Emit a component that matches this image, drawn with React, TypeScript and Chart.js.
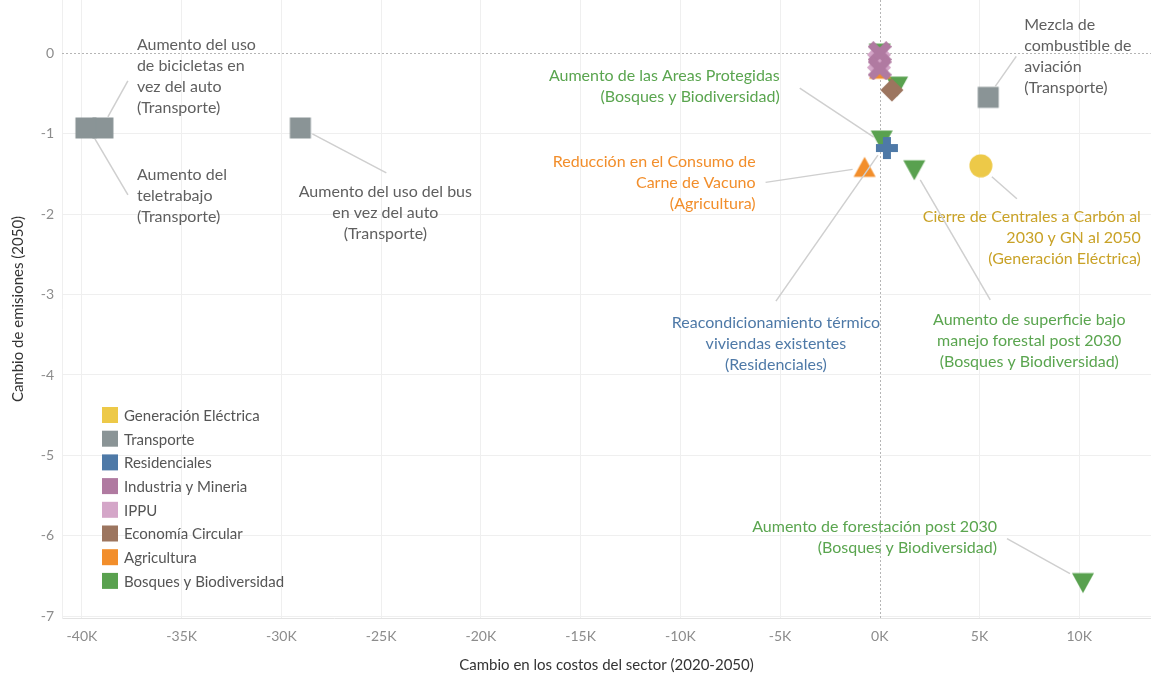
import { useEffect, useRef } from "react";
import { Chart, registerables } from "chart.js";

Chart.register(...registerables);

// ---- Data ---------------------------------------------------------------
// Sector categories (legend order) and their colours
const categories = [
  "Generación Eléctrica",
  "Transporte",
  "Residenciales",
  "Industria y Mineria",
  "IPPU",
  "Economía Circular",
  "Agricultura",
  "Bosques y Biodiversidad",
];
const categoryColors = [
  "#edc948",
  "#8a9496",
  "#4e79a7",
  "#b07aa1",
  "#d4a6c8",
  "#9c755f",
  "#f28e2b",
  "#59a14f",
];
const categoryShapes = ["circle", "square", "plus", "cross", "cross", "diamond", "triUp", "triDown"];

// Cost change (2020-2050) and emissions change (2050) for each measure
const generacionCost = [5070];
const generacionEmis = [-1.4];
const transporteCost = [-38950, -39800, -29050, 5440];
const transporteEmis = [-0.93, -0.93, -0.93, -0.55];
const residencialCost = [360];
const residencialEmis = [-1.18];
const industriaCost = [0, 0];
const industriaEmis = [0.0, -0.19];
const ippuCost = [-40];
const ippuEmis = [-0.1];
const circularCost = [610];
const circularEmis = [-0.46];
const agriculturaCost = [-760, 20];
const agriculturaEmis = [-1.42, -0.2];
const bosquesCost = [0, 870, 100, 1730, 10190];
const bosquesEmis = [0.0, -0.41, -1.08, -1.45, -6.58];

const costSeries = [
  generacionCost,
  transporteCost,
  residencialCost,
  industriaCost,
  ippuCost,
  circularCost,
  agriculturaCost,
  bosquesCost,
];
const emisSeries = [
  generacionEmis,
  transporteEmis,
  residencialEmis,
  industriaEmis,
  ippuEmis,
  circularEmis,
  agriculturaEmis,
  bosquesEmis,
];

// Axis ticks
const xTicks = [-40000, -35000, -30000, -25000, -20000, -15000, -10000, -5000, 0, 5000, 10000];
const yTicks = [0, -1, -2, -3, -4, -5, -6, -7];

// Callout labels: which measure they describe and the text lines
const calloutSeries = [1, 1, 1, 1, 7, 6, 0, 2, 7, 7];
const calloutIndex = [0, 1, 2, 3, 2, 0, 0, 0, 3, 4];
const calloutText = [
  ["Aumento del uso", "de bicicletas en", "vez del auto", "(Transporte)"],
  ["Aumento del", "teletrabajo", "(Transporte)"],
  ["Aumento del uso del bus", "en vez del auto", "(Transporte)"],
  ["Mezcla de", "combustible de", "aviación", "(Transporte)"],
  ["Aumento de las Areas Protegidas", "(Bosques y Biodiversidad)"],
  ["Reducción en el Consumo de", "Carne de Vacuno", "(Agricultura)"],
  ["Cierre de Centrales a Carbón al", "2030 y GN al 2050", "(Generación Eléctrica)"],
  ["Reacondicionamiento térmico", "viviendas existentes", "(Residenciales)"],
  ["Aumento de superficie bajo", "manejo forestal post 2030", "(Bosques y Biodiversidad)"],
  ["Aumento de forestación post 2030", "(Bosques y Biodiversidad)"],
];

// ---- Presentation --------------------------------------------------------
const FONT = "Lato, 'Open Sans', sans-serif";
const textColors: Record<number, string> = {
  0: "#c9a227",
  1: "#5f5f5f",
  2: "#4e79a7",
  6: "#f28e2b",
  7: "#5aa54f",
};

// Text placement relative to the marker (pixels): text anchor, alignment, leader line ends
const calloutLayout = [
  { tx: 34, ty: -83, align: "left", l1: [5, -11], l2: [25, -47] },
  { tx: 51, ty: 47, align: "left", l1: [9, 11], l2: [42, 67] },
  { tx: 85, ty: 64, align: "center", l1: [12, 6], l2: [86, 45] },
  { tx: 36, ty: -73, align: "left", l1: [7, -11], l2: [28, -41] },
  { tx: -102, ty: -64, align: "right", l1: [-8, -3], l2: [-82, -52] },
  { tx: -109, ty: -6, align: "right", l1: [-12, 2], l2: [-99, 15] },
  { tx: 160, ty: 51, align: "right", l1: [11, 11], l2: [36, 33] },
  { tx: -111, ty: 175, align: "center", l1: [-9, 7], l2: [-111, 153] },
  { tx: 115, ty: 150, align: "center", l1: [6, 10], l2: [76, 130] },
  { tx: -86, ty: -56, align: "right", l1: [-13, -9], l2: [-76, -44] },
];

function makeMarker(shape: string, color: string): HTMLCanvasElement {
  const s = 24;
  const c = document.createElement("canvas");
  c.width = s;
  c.height = s;
  const g = c.getContext("2d")!;
  g.fillStyle = color;
  const m = s / 2;
  g.beginPath();
  if (shape === "square") {
    g.rect(m - 10.5, m - 10.5, 21, 21);
  } else if (shape === "circle") {
    g.arc(m, m, 11.5, 0, Math.PI * 2);
  } else if (shape === "triUp") {
    g.moveTo(m, m - 10.5);
    g.lineTo(m + 11, m + 9.5);
    g.lineTo(m - 11, m + 9.5);
    g.closePath();
  } else if (shape === "triDown") {
    g.moveTo(m - 11, m - 9.5);
    g.lineTo(m + 11, m - 9.5);
    g.lineTo(m, m + 10.5);
    g.closePath();
  } else if (shape === "diamond") {
    g.moveTo(m, m - 11.5);
    g.lineTo(m + 11.5, m);
    g.lineTo(m, m + 11.5);
    g.lineTo(m - 11.5, m);
    g.closePath();
  } else if (shape === "plus") {
    const a = 4;
    const L = 11;
    g.rect(m - a, m - L, 2 * a, 2 * L);
    g.rect(m - L, m - a, 2 * L, 2 * a);
  } else if (shape === "cross") {
    g.translate(m, m);
    g.rotate(Math.PI / 4);
    const a = 4;
    const L = 13;
    g.rect(-a, -L, 2 * a, 2 * L);
    g.rect(-L, -a, 2 * L, 2 * a);
  }
  g.fill();
  return c;
}

// Dotted zero reference lines
const zeroLines = {
  id: "zeroLines",
  beforeDatasetsDraw(chart: any) {
    const { ctx, chartArea, scales } = chart;
    const x0 = scales.x.getPixelForValue(0);
    const y0 = scales.y.getPixelForValue(0);
    ctx.save();
    ctx.strokeStyle = "#b5b5b5";
    ctx.lineWidth = 1;
    ctx.setLineDash([2, 2]);
    ctx.beginPath();
    ctx.moveTo(Math.round(x0) + 0.5, chartArea.top);
    ctx.lineTo(Math.round(x0) + 0.5, chartArea.bottom);
    ctx.moveTo(chartArea.left, Math.round(y0) + 0.5);
    ctx.lineTo(chartArea.right, Math.round(y0) + 0.5);
    ctx.stroke();
    ctx.restore();
  },
};

// Callout texts with leader lines
const callouts = {
  id: "callouts",
  afterDatasetsDraw(chart: any) {
    const { ctx } = chart;
    ctx.save();
    calloutText.forEach((lines, i) => {
      const meta = chart.getDatasetMeta(calloutSeries[i]);
      const el = meta.data[calloutIndex[i]];
      if (!el) return;
      const px = el.x;
      const py = el.y;
      const lay = calloutLayout[i];
      ctx.strokeStyle = "#cfcfcf";
      ctx.lineWidth = 1.5;
      ctx.setLineDash([]);
      ctx.beginPath();
      ctx.moveTo(px + lay.l1[0], py + lay.l1[1]);
      ctx.lineTo(px + lay.l2[0], py + lay.l2[1]);
      ctx.stroke();
      ctx.fillStyle = textColors[calloutSeries[i]] || "#5f5f5f";
      ctx.font = `16px ${FONT}`;
      ctx.textAlign = lay.align;
      ctx.textBaseline = "middle";
      lines.forEach((t, k) => {
        ctx.fillText(t, px + lay.tx, py + lay.ty + k * 21);
      });
    });
    ctx.restore();
  },
};

// Category legend drawn inside the plot area
const innerLegend = {
  id: "innerLegend",
  afterDraw(chart: any) {
    const { ctx, chartArea } = chart;
    const x = chartArea.left + 40;
    const y0 = chartArea.top + 415;
    ctx.save();
    ctx.font = `15px ${FONT}`;
    ctx.textBaseline = "middle";
    ctx.textAlign = "left";
    categories.forEach((name, i) => {
      const cy = y0 + i * 23.7;
      ctx.fillStyle = categoryColors[i];
      ctx.fillRect(x, cy - 8, 16, 16);
      ctx.fillStyle = "#555555";
      ctx.fillText(name, x + 22, cy + 1);
    });
    ctx.restore();
  },
};

export default function App() {
  const ref = useRef<HTMLCanvasElement | null>(null);

  useEffect(() => {
    document.body.style.margin = "0";
    if (!ref.current) return;
    const datasets = categories.map((name, i) => ({
      label: name,
      data: costSeries[i].map((x, k) => ({ x, y: emisSeries[i][k] })),
      pointStyle: makeMarker(categoryShapes[i], categoryColors[i]),
      backgroundColor: categoryColors[i],
      borderColor: categoryColors[i],
    }));

    const chart = new Chart(ref.current, {
      type: "scatter",
      data: { datasets },
      plugins: [zeroLines, callouts, innerLegend],
      options: {
        animation: false,
        responsive: true,
        maintainAspectRatio: false,
        layout: { autoPadding: false, padding: { top: 0, right: 0, bottom: 0, left: 0 } },
        plugins: {
          legend: { display: false },
          tooltip: { enabled: false },
        },
        scales: {
          x: {
            type: "linear",
            min: -41000,
            max: 13600,
            afterBuildTicks: (scale: any) => {
              scale.ticks = xTicks.map((v) => ({ value: v }));
            },
            afterFit: (scale: any) => {
              scale.height = 59;
              scale.paddingLeft = 0;
              scale.paddingRight = 0;
            },
            ticks: {
              color: "#8c8c8c",
              font: { family: FONT, size: 14 },
              padding: 10,
              maxRotation: 0,
              callback: (v: any) => `${Math.round(Number(v) / 1000)}K`,
            },
            grid: {
              color: (c: any) => (c.tick && c.tick.value === 0 ? "rgba(0,0,0,0)" : "#efefef"),
              drawTicks: false,
            },
            border: { color: "#e3e3e3" },
            title: {
              display: true,
              text: "Cambio en los costos del sector (2020-2050)",
              color: "#333333",
              font: { family: FONT, size: 15 },
              padding: { top: 0, bottom: 3 },
            },
          },
          y: {
            type: "linear",
            min: -7.02,
            max: 0.66,
            afterBuildTicks: (scale: any) => {
              scale.ticks = yTicks.map((v) => ({ value: v }));
            },
            afterFit: (scale: any) => {
              scale.width = 62;
              scale.paddingTop = 0;
              scale.paddingBottom = 0;
            },
            ticks: {
              color: "#8c8c8c",
              font: { family: FONT, size: 14 },
              padding: 8,
              callback: (v: any) => `${v}`,
            },
            grid: {
              color: (c: any) => (c.tick && c.tick.value === 0 ? "rgba(0,0,0,0)" : "#efefef"),
              drawTicks: false,
            },
            border: { color: "#efefef" },
            title: {
              display: true,
              text: "Cambio de emisiones (2050)",
              color: "#333333",
              font: { family: FONT, size: 15 },
              padding: { top: 9, bottom: 0 },
            },
          },
        },
      },
    });
    return () => chart.destroy();
  }, []);

  return (
    <div style={{ position: "absolute", left: 0, top: 0, width: 1151, height: 677 }}>
      <canvas ref={ref} />
    </div>
  );
}
